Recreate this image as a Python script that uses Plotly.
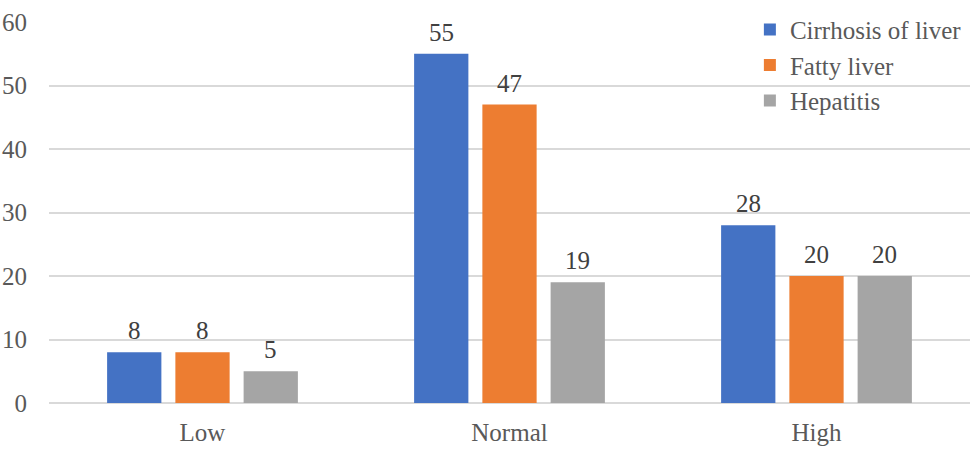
import plotly.graph_objects as go

categories = ["Low", "Normal", "High"]
series_names = ["Cirrhosis of liver", "Fatty liver", "Hepatitis"]
cirrhosis = [8, 55, 28]
fatty = [8, 47, 20]
hepatitis = [5, 19, 20]
y_ticks = [0, 10, 20, 30, 40, 50, 60]

colors = ["#4472C4", "#ED7D31", "#A5A5A5"]
font_family = "Liberation Serif, Times New Roman, serif"

W, H = 976, 449
L, R, T, B = 49, 6, 22, 46
BARGAP, GROUPGAP = 0.333, 0.205
plot_w = W - L - R
slot_px = plot_w / len(categories) * (1 - BARGAP) / len(series_names)

fig = go.Figure()
all_vals = [cirrhosis, fatty, hepatitis]
for i, (name, vals, col) in enumerate(zip(series_names, all_vals, colors)):
    fig.add_trace(go.Bar(
        x=categories, y=vals, name=name,
        marker=dict(color=col, line=dict(width=0)),
    ))
    for c, v in zip(categories, vals):
        fig.add_annotation(
            x=c, y=v, text=str(v), showarrow=False,
            xref="x", yref="y", yanchor="bottom",
            xshift=(i - 1) * slot_px, yshift=6,
            font=dict(family=font_family, size=25, color="#404040"),
        )

fig.update_layout(
    width=W, height=H,
    margin=dict(l=L, r=R, t=T, b=B, autoexpand=False),
    paper_bgcolor="white", plot_bgcolor="white",
    barmode="group", bargap=BARGAP, bargroupgap=GROUPGAP,
    font=dict(family=font_family, size=25, color="#595959"),
    legend=dict(x=0.761, y=1.04, xanchor="left", yanchor="top",
                font=dict(family=font_family, size=25, color="#595959"),
                bgcolor="rgba(0,0,0,0)", tracegroupgap=0, itemwidth=30),
    showlegend=True,
    xaxis=dict(showgrid=False, showline=False, ticks="", ticklabelstandoff=12,
               automargin=False, tickfont=dict(size=25, color="#595959")),
    yaxis=dict(range=[0, 60], tickvals=y_ticks, showgrid=True, gridcolor="#D9D9D9", gridwidth=1.5,
               zeroline=True, zerolinecolor="#D9D9D9", zerolinewidth=1.5, automargin=False,
               showline=False, ticks="", tickfont=dict(size=25, color="#595959"), ticklabelstandoff=21),
)

fig.write_html("out.html", config={"displayModeBar": False},
               post_script="document.body.style.margin='0';document.body.style.overflow='hidden';")
